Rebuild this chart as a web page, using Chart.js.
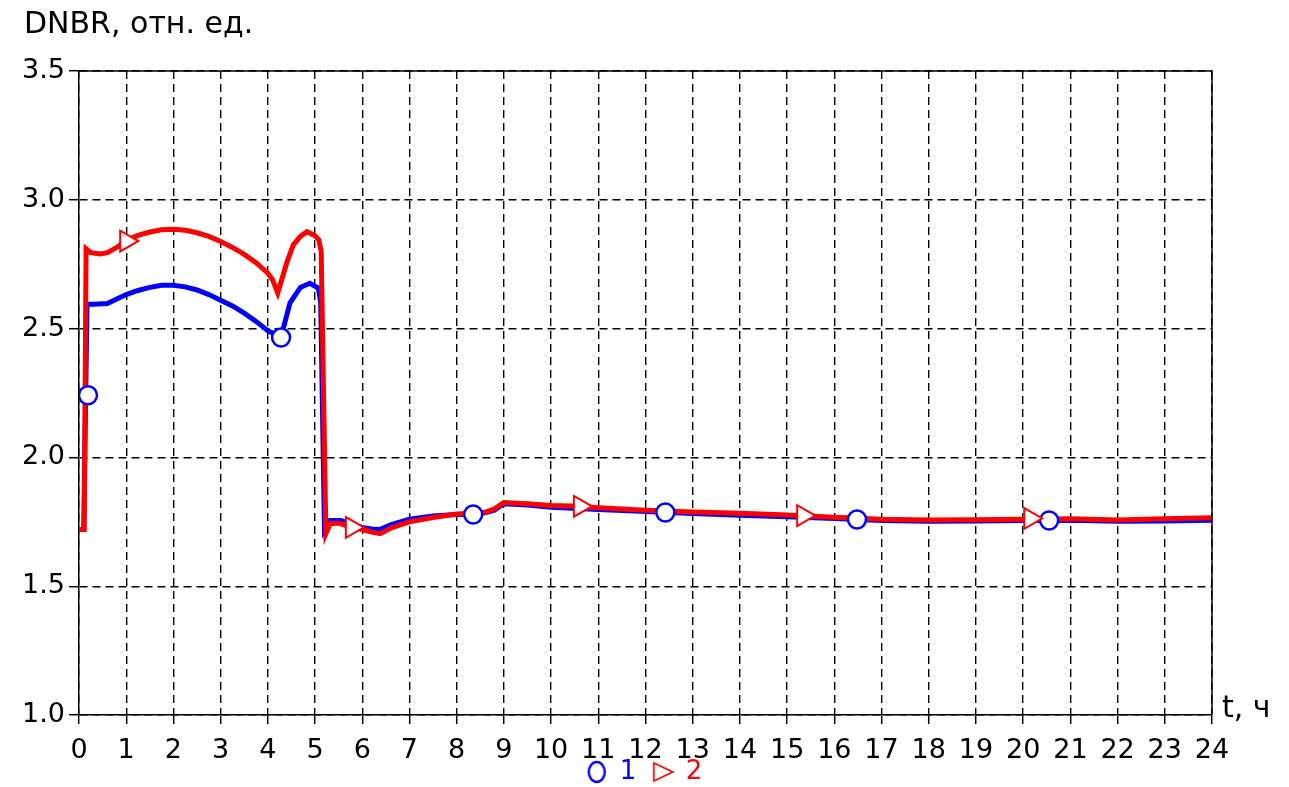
<!DOCTYPE html>
<html>
<head>
<meta charset="utf-8">
<script src="https://cdn.jsdelivr.net/npm/chart.js@4.4.1/dist/chart.umd.min.js"></script>
<style>
  html, body { margin: 0; padding: 0; background: #fff; }
  canvas { display: block; }
</style>
</head>
<body>
<canvas id="c" width="1289" height="787"></canvas>
<script>
// Time axis, hours
const xTicks = [0,1,2,3,4,5,6,7,8,9,10,11,12,13,14,15,16,17,18,19,20,21,22,23,24];
const yTicks = [1.0, 1.5, 2.0, 2.5, 3.0, 3.5];

// Series 1 (blue): DNBR vs time
const time1 = [0, 0.10, 0.17, 0.30, 0.60, 0.80, 1.00, 1.25, 1.50, 1.75, 2.00, 2.25, 2.50, 2.75, 3.00, 3.25, 3.50, 3.75, 4.00, 4.15, 4.28, 4.47, 4.69, 4.89, 5.07, 5.12, 5.20, 5.25, 5.32, 5.55, 5.75, 6.00, 6.20, 6.37, 6.60, 7.00, 7.50, 8.00, 8.35, 8.60, 8.80, 9.00, 9.50, 10.0, 11.0, 12.0, 13.0, 14.0, 15.0, 16.0, 17.0, 18.0, 19.0, 20.0, 21.0, 22.0, 23.0, 24.0];
const dnbr1 = [1.72, 1.72, 2.595, 2.595, 2.597, 2.615, 2.632, 2.648, 2.660, 2.668, 2.668, 2.662, 2.650, 2.632, 2.610, 2.588, 2.560, 2.528, 2.492, 2.478, 2.468, 2.600, 2.660, 2.676, 2.657, 2.600, 1.716, 1.730, 1.755, 1.755, 1.742, 1.728, 1.722, 1.720, 1.738, 1.760, 1.773, 1.778, 1.778, 1.785, 1.795, 1.820, 1.815, 1.806, 1.798, 1.790, 1.782, 1.775, 1.770, 1.763, 1.755, 1.752, 1.753, 1.755, 1.756, 1.752, 1.753, 1.756];

// Series 2 (red): DNBR vs time
const time2 = [0, 0.11, 0.15, 0.25, 0.45, 0.60, 0.80, 1.00, 1.25, 1.50, 1.75, 2.00, 2.25, 2.50, 2.75, 3.00, 3.25, 3.50, 3.75, 4.00, 4.10, 4.21, 4.40, 4.54, 4.69, 4.83, 5.00, 5.08, 5.13, 5.23, 5.32, 5.50, 5.78, 6.00, 6.20, 6.38, 6.60, 7.00, 7.50, 8.00, 8.30, 8.60, 8.80, 9.00, 9.50, 10.0, 10.6, 11.0, 12.0, 13.0, 14.0, 15.0, 16.0, 17.0, 18.0, 19.0, 20.0, 21.0, 22.0, 23.0, 24.0];
const dnbr2 = [1.72, 1.72, 2.81, 2.795, 2.790, 2.795, 2.815, 2.842, 2.862, 2.875, 2.884, 2.886, 2.882, 2.872, 2.858, 2.838, 2.815, 2.788, 2.756, 2.715, 2.690, 2.638, 2.755, 2.825, 2.858, 2.876, 2.860, 2.845, 2.800, 1.704, 1.742, 1.745, 1.728, 1.720, 1.710, 1.704, 1.725, 1.750, 1.767, 1.780, 1.783, 1.787, 1.800, 1.825, 1.820, 1.813, 1.810, 1.805, 1.795, 1.788, 1.783, 1.776, 1.768, 1.760, 1.757, 1.758, 1.760, 1.762, 1.757, 1.762, 1.766];

// Marker positions along each series
const markTime1 = [0.19, 4.28, 8.35, 12.42, 16.48, 20.55];
const markDnbr1 = [2.241, 2.465, 1.778, 1.786, 1.759, 1.755];
const markTime2 = [1.00, 5.78, 10.61, 15.34, 20.15];
const markDnbr2 = [2.840, 1.728, 1.810, 1.774, 1.763];

const legendLabels = ['1', '2'];
const yTitle = 'DNBR, отн. ед.';
const xTitle = 't, ч';

const FONT = 'DejaVu Sans';
const BLUE = '#0000ff';
const RED = '#ff0000';

const pts = (xs, ys) => xs.map((x, i) => ({ x: x, y: ys[i] }));

// Small glyph images for the legend: an upright oval and a right-pointing triangle
function legendGlyph(w, h, color, lw, path) {
  const c = document.createElement('canvas');
  c.width = w; c.height = h;
  const g = c.getContext('2d');
  g.strokeStyle = color;
  g.lineWidth = lw;
  g.beginPath();
  path(g);
  g.stroke();
  return c;
}
const ovalGlyph = legendGlyph(22, 26, BLUE, 2.4, g => g.ellipse(11, 13, 8, 10, 0, 0, Math.PI * 2));
const triGlyph = legendGlyph(26, 26, RED, 1.7, g => { g.moveTo(4, 4); g.lineTo(23, 13); g.lineTo(4, 22); g.closePath(); });

// Frame on the top and right edges plus the axis captions
const framePlugin = {
  id: 'frame',
  afterDraw(chart) {
    const { ctx, chartArea: a } = chart;
    ctx.save();
    ctx.strokeStyle = '#000';
    ctx.lineWidth = 1.5;
    ctx.beginPath();
    ctx.moveTo(a.left, a.top);
    ctx.lineTo(a.right, a.top);
    ctx.lineTo(a.right, a.bottom);
    ctx.stroke();
    ctx.fillStyle = '#000';
    ctx.font = '30px "' + FONT + '"';
    ctx.textBaseline = 'alphabetic';
    ctx.textAlign = 'left';
    ctx.fillText(yTitle, 24, 33);
    ctx.fillText(xTitle, a.right + 10, a.bottom + 2);
    ctx.restore();
  }
};

new Chart(document.getElementById('c'), {
  type: 'line',
  data: {
    datasets: [
      { label: '1', data: pts(time1, dnbr1), borderColor: BLUE, borderWidth: 5, pointRadius: 0, tension: 0, order: 3 },
      { label: '2', data: pts(time2, dnbr2), borderColor: RED, borderWidth: 5, pointRadius: 0, tension: 0, order: 2 },
      { label: 'm1', data: pts(markTime1, markDnbr1), showLine: false, pointStyle: 'circle', pointRadius: 9,
        pointBorderWidth: 2.5, pointBorderColor: BLUE, pointBackgroundColor: '#fff', order: 1 },
      { label: 'm2', data: pts(markTime2, markDnbr2), showLine: false, pointStyle: 'triangle', pointRotation: 90,
        pointRadius: 12, pointBorderWidth: 2, pointBorderColor: RED, pointBackgroundColor: '#fff', order: 0 }
    ]
  },
  options: {
    responsive: false,
    animation: false,
    layout: { padding: { left: 0, right: 0, top: 71, bottom: -8 } },
    plugins: {
      tooltip: { enabled: false },
      legend: {
        position: 'bottom',
        labels: {
          usePointStyle: true,
          padding: 0,
          boxWidth: 20,
          boxHeight: 12.5,
          font: { family: FONT, size: 26 },
          generateLabels: () => [
            { text: legendLabels[0] + '  ', pointStyle: ovalGlyph, fontColor: BLUE, hidden: false, datasetIndex: 0 },
            { text: legendLabels[1], pointStyle: triGlyph, fontColor: RED, hidden: false, datasetIndex: 1 }
          ]
        }
      }
    },
    scales: {
      x: {
        type: 'linear',
        min: 0, max: 24,
        afterBuildTicks: s => { s.ticks = xTicks.map(v => ({ value: v })); },
        afterFit: s => { s.height = 44; },
        ticks: { color: '#000', font: { family: FONT, size: 27 }, padding: 11, maxRotation: 0,
                 callback: v => String(v) },
        grid: { color: '#000', lineWidth: 1.4, drawTicks: true, tickLength: 9,
                tickColor: '#000', tickWidth: 1.5, tickBorderDash: [] },
        border: { display: true, color: '#000', width: 1.5, dash: [8, 5] }
      },
      y: {
        type: 'linear',
        min: 1.0, max: 3.5,
        afterBuildTicks: s => { s.ticks = yTicks.map(v => ({ value: v })); },
        afterFit: s => { s.width = 79; },
        ticks: { color: '#000', font: { family: FONT, size: 27 }, padding: 4,
                 callback: v => Number(v).toFixed(1) },
        grid: { color: '#000', lineWidth: 1.4, drawTicks: true, tickLength: 10,
                tickColor: '#000', tickWidth: 1.5, tickBorderDash: [] },
        border: { display: true, color: '#000', width: 1.5, dash: [8, 5] }
      },
      // empty right-hand strip that keeps the plot edge at the 24 h line
      yRight: {
        type: 'linear',
        position: 'right',
        display: true,
        afterFit: s => { s.width = 77; },
        ticks: { display: false },
        grid: { display: false, drawTicks: false },
        border: { display: false }
      }
    }
  },
  plugins: [framePlugin]
});
</script>
</body>
</html>
